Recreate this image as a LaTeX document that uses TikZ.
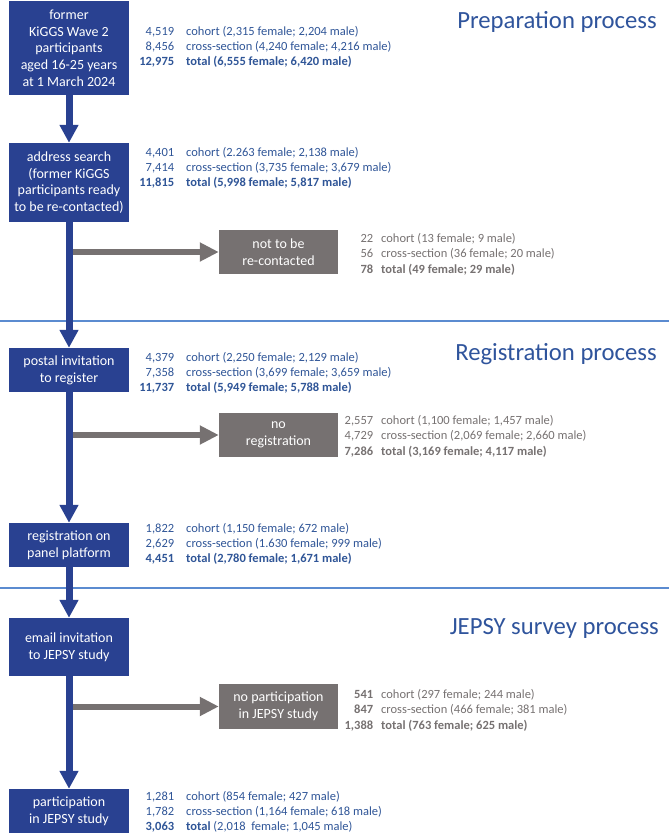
\documentclass[tikz,border=0pt]{standalone}
\usepackage{fontspec}
\setmainfont{Carlito}
\usetikzlibrary{positioning, arrows.meta, calc}

\definecolor{boxblue}{RGB}{41,65,145}
\definecolor{txtblue}{RGB}{47,85,151}
\definecolor{boxgray}{RGB}{118,113,113}
\definecolor{ruleblue}{RGB}{91,139,208}
\definecolor{titleblue}{RGB}{47,84,156}

% one row of counts: number, then its breakdown
\newcommand{\bluerow}[2]{\makebox[40pt][r]{#1}\hspace{12pt}#2}
\newcommand{\grayrow}[2]{\makebox[40pt][r]{#1}\hspace{8pt}#2}

\begin{document}
\begin{tikzpicture}[
  x=1pt, y=-1pt,
  % Box styles
  flowbox/.style={rectangle, fill=boxblue, text=white, minimum width=120pt, inner sep=0pt, align=center, font=\fontsize{14}{16.7}\selectfont},
  dropbox/.style={rectangle, fill=boxgray, text=white, minimum width=119pt, minimum height=44pt, inner sep=0pt, align=center, font=\fontsize{14}{16.7}\selectfont},
  bluestats/.style={anchor=west, align=left, inner sep=0pt, text=txtblue, font=\fontsize{12.5}{15}\selectfont},
  graystats/.style={anchor=west, align=left, inner sep=0pt, text=boxgray, font=\fontsize{12.5}{15.5}\selectfont},
  phase/.style={anchor=base east, inner sep=0pt, text=titleblue, font=\fontsize{24.7}{28}\selectfont},
  % Arrow styles
  flow/.style={draw=boxblue, line width=7pt, -{Triangle[width=18pt, length=18pt]}},
  drop/.style={draw=boxgray, line width=6pt, -{Triangle[width=18pt, length=19pt]}},
  sep/.style={draw=ruleblue, line width=1.5pt}
]
  \useasboundingbox (0,0) rectangle (669,835);

  % ==========================================
  % PHASE SEPARATORS AND TITLES
  % ==========================================
  \draw[sep] (0,321) -- (669,321);
  \draw[sep] (0,588) -- (669,588);
  \node[phase] (t1) at (657,28) {Preparation process};
  \node[phase] (t2) at (657,360) {Registration process};
  \node[phase] (t3) at (659,634) {JEPSY survey process};

  % ==========================================
  % MAIN FLOW
  % ==========================================
  \node[flowbox, minimum height=94pt] (former) at (69,48) {former\\KiGGS Wave 2\\participants\\aged 16-25 years\\at 1 March 2024};
  \node[bluestats] (sformer) at (134,47) {
    \bluerow{4,519}{cohort (2,315 female; 2,204 male)}\\
    \bluerow{8,456}{cross-section (4,240 female; 4,216 male)}\\
    \bluerow{\textbf{12,975}}{\textbf{total (6,555 female; 6,420 male)}}};

  \node[flowbox, minimum height=79pt] (address) at (69,182.5) {address search\\(former KiGGS\\participants ready\\to be re-contacted)};
  \node[bluestats] (saddress) at (134,168) {
    \bluerow{4,401}{cohort (2.263 female; 2,138 male)}\\
    \bluerow{7,414}{cross-section (3,735 female; 3,679 male)}\\
    \bluerow{\textbf{11,815}}{\textbf{total (5,998 female; 5,817 male)}}};

  \node[flowbox, minimum height=44pt] (postal) at (69,370) {postal invitation\\to register};
  \node[bluestats] (spostal) at (134,373) {
    \bluerow{4,379}{cohort (2,250 female; 2,129 male)}\\
    \bluerow{7,358}{cross-section (3,699 female; 3,659 male)}\\
    \bluerow{\textbf{11,737}}{\textbf{total (5,949 female; 5,788 male)}}};

  \node[flowbox, minimum height=44pt] (register) at (69,545) {registration on\\panel platform};
  \node[bluestats] (sregister) at (134,544) {
    \bluerow{1,822}{cohort (1,150 female; 672 male)}\\
    \bluerow{2,629}{cross-section (1.630 female; 999 male)}\\
    \bluerow{\textbf{4,451}}{\textbf{total (2,780 female; 1,671 male)}}};

  \node[flowbox, minimum height=58pt] (email) at (69,647) {email invitation\\to JEPSY study};

  \node[flowbox, minimum height=44pt] (particip) at (69,811) {participation\\in JEPSY study};
  \node[bluestats] (sparticip) at (134,812) {
    \bluerow{1,281}{cohort (854 female; 427 male)}\\
    \bluerow{1,782}{cross-section (1,164 female; 618 male)}\\
    \bluerow{\textbf{3,063}}{\textbf{total} (2,018~ female; 1,045 male)}};

  % ==========================================
  % DROP-OUTS
  % ==========================================
  \node[dropbox] (nocontact) at (278.5,252) {not to be\\re-contacted};
  \node[graystats] (snocontact) at (333,254) {
    \grayrow{22}{cohort (13 female; 9 male)}\\
    \grayrow{56}{cross-section (36 female; 20 male)}\\
    \grayrow{\textbf{78}}{\textbf{total (49 female; 29 male)}}};

  \node[dropbox] (noreg) at (278.5,435) {no\\registration};
  \node[graystats] (snoreg) at (333,436) {
    \grayrow{2,557}{cohort (1,100 female; 1,457 male)}\\
    \grayrow{4,729}{cross-section (2,069 female; 2,660 male)}\\
    \grayrow{\textbf{7,286}}{\textbf{total (3,169 female; 4,117 male)}}};

  \node[dropbox, minimum height=45pt] (nopart) at (278.5,706.5) {no participation\\in JEPSY study};
  \node[graystats] (snopart) at (333,710) {
    \grayrow{\textbf{541}}{cohort (297 female; 244 male)}\\
    \grayrow{\textbf{847}}{cross-section (466 female; 381 male)}\\
    \grayrow{\textbf{1,388}}{\textbf{total (763 female; 625 male)}}};

  % ==========================================
  % ARROWS
  % ==========================================
  \coordinate (b1) at (address.south |- nocontact);
  \coordinate (b2) at (postal.south |- noreg);
  \coordinate (b3) at (email.south |- nopart);
  \draw[drop] (b1) -- (nocontact);
  \draw[drop] (b2) -- (noreg);
  \draw[drop] (b3) -- (nopart);

  \draw[flow] (former) -- (address);
  \draw[flow] (address) -- (postal);
  \draw[flow] (postal) -- (register);
  \draw[flow] (register) -- (email);
  \draw[flow] (email) -- (particip);

\end{tikzpicture}
\end{document}
